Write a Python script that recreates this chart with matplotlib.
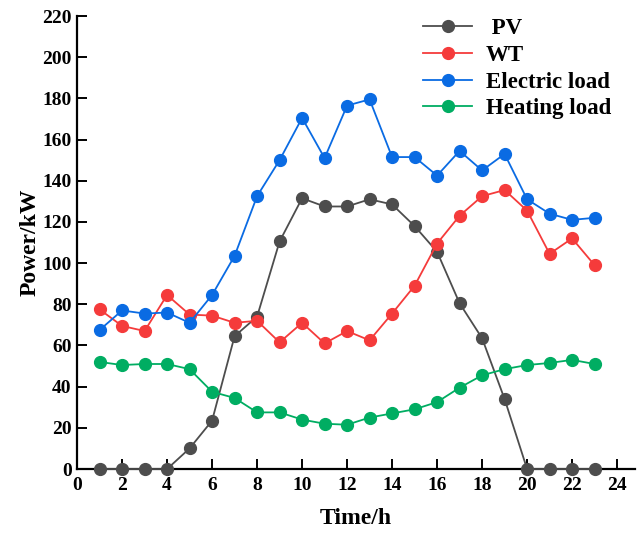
import matplotlib
matplotlib.use("Agg")
import matplotlib.pyplot as plt

# ── Data ─────────────────────────────────────────────────────────────
hours = list(range(1, 24))
pv = [0, 0, 0, 0, 10, 23.5, 64.5, 74, 110.5, 131.5, 127.5, 127.5,
      131, 128.5, 118, 105.5, 80.5, 63.5, 34, 0, 0, 0, 0]
wt = [77.5, 69.5, 67, 84.5, 75, 74.5, 71, 72, 61.5, 71, 61, 67,
      62.5, 75.5, 89, 109.5, 123, 132.5, 135.5, 125.5, 104.5, 112, 99]
elec_load = [67.5, 77, 75.5, 76, 71, 84.5, 103.5, 132.5, 150, 170.5, 151, 176.5,
             179.5, 151.5, 151.5, 142.5, 154.5, 145, 153, 131, 124, 121, 122]
heat_load = [52, 50.5, 51, 51, 48.5, 37.5, 34.5, 27.5, 27.5, 24, 22, 21.5,
             25, 27, 29, 32.5, 39.5, 45.5, 48.5, 50.5, 51.5, 53, 51]

series = [
    (" PV", pv, "#4d4d4d"),
    ("WT", wt, "#f53b3b"),
    ("Electric load", elec_load, "#0a6be3"),
    ("Heating load", heat_load, "#00ad62"),
]

plt.rcParams["font.family"] = ["Liberation Serif", "DejaVu Serif"]
plt.rcParams["font.weight"] = "bold"

fig = plt.figure(figsize=(6.37, 5.34), dpi=100)
ax = fig.add_axes([0.121, 0.1217, 0.876, 0.8483])

for label, vals, col in series:
    ax.plot(hours, vals, color=col, marker="o", markersize=8.5,
            linewidth=1.3, label=label, clip_on=False, zorder=3)

ax.set_xlim(0, 24.8)
ax.set_ylim(0, 220)
ax.set_xticks(range(0, 25, 2))
ax.set_yticks(range(0, 221, 20))

for side in ("top", "right"):
    ax.spines[side].set_visible(False)
for side in ("left", "bottom"):
    ax.spines[side].set_linewidth(1.6)
ax.tick_params(direction="in", length=7, width=1.4, labelsize=14, pad=4)
ax.tick_params(axis="x", pad=6)
for lab in ax.get_xticklabels() + ax.get_yticklabels():
    lab.set_fontweight("bold")

ax.set_xlabel("Time/h", fontsize=17, fontweight="bold", labelpad=10)
ax.set_ylabel("Power/kW", fontsize=17, fontweight="bold", labelpad=1)

leg = ax.legend(loc="upper left", bbox_to_anchor=(423 / 637, 1 - 18 / 534),
                bbox_transform=fig.transFigure, frameon=False,
                fontsize=16.5, handlelength=2.15, handletextpad=0.6,
                labelspacing=0.25, borderaxespad=0, borderpad=0)
for t in leg.get_texts():
    t.set_fontweight("bold")

fig.savefig("out.png", dpi=100)
